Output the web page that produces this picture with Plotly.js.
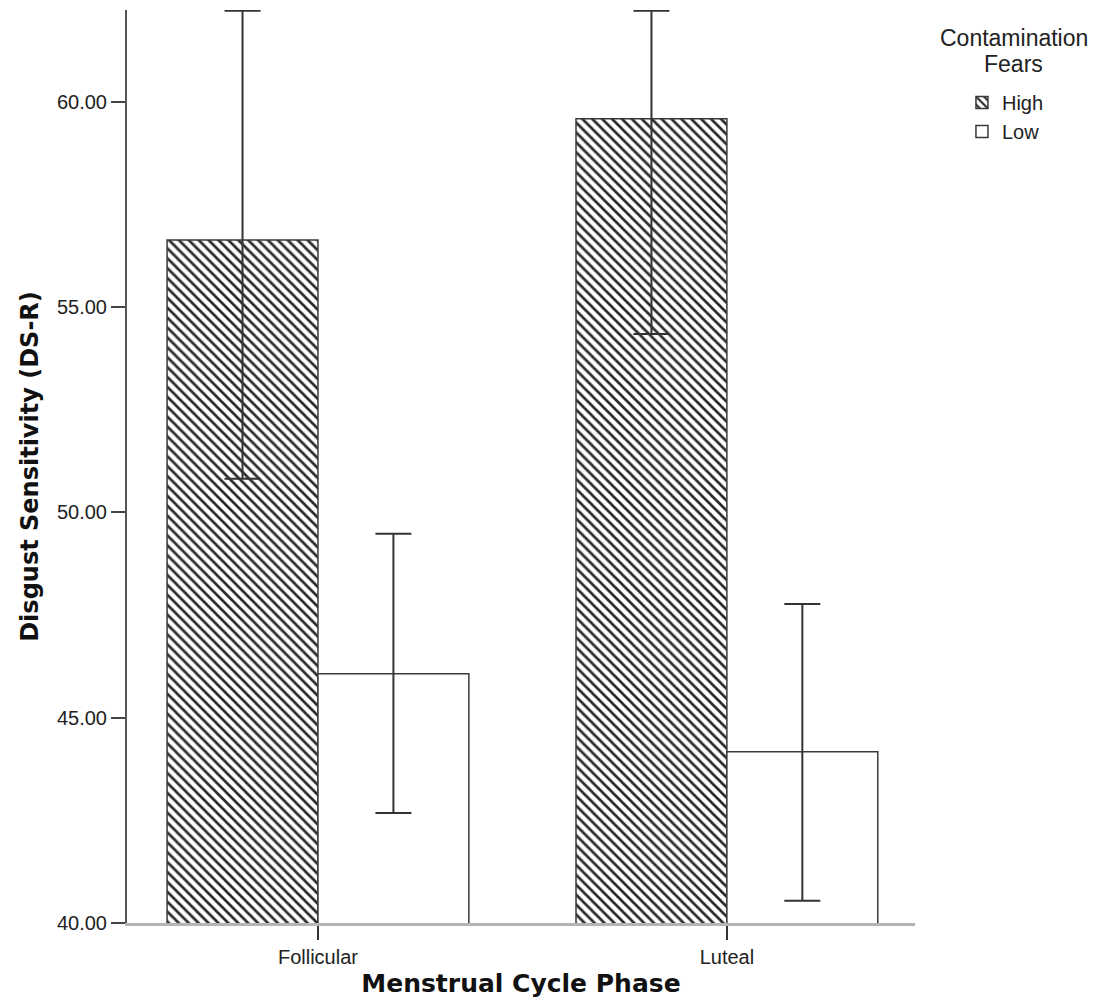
<!DOCTYPE html>
<html>
<head>
<meta charset="utf-8">
<script src="https://cdn.plot.ly/plotly-3.0.1.min.js"></script>
<style>html,body{margin:0;padding:0;background:#fff;}#chart{width:1101px;height:1002px;}</style>
</head>
<body>
<div id="chart"></div>
<script>
const phases = ["Follicular", "Luteal"];
const highMeans = [56.64, 59.59];
const highErrPlus = [5.58, 2.63];
const highErrMinus = [5.82, 5.24];
const lowMeans = [46.07, 44.17];
const lowErrPlus = [3.41, 3.60];
const lowErrMinus = [3.39, 3.63];
const seriesNames = ["High", "Low"];
const legendTitleLines = ["Contamination", "Fears"];

const lineCol = "#3a3a3a";
const errStyle = (plus, minus) => ({
  type: "data", symmetric: false, array: plus, arrayminus: minus,
  color: "#333333", thickness: 2, width: 18
});

const traces = [
  {
    type: "bar", name: seriesNames[0], x: phases, y: highMeans,
    marker: {
      color: "#ffffff",
      line: {color: lineCol, width: 1.5},
      pattern: {shape: "\\", size: 7, solidity: 0.38, fgcolor: "#2a2a2a", bgcolor: "#ffffff"}
    },
    error_y: errStyle(highErrPlus, highErrMinus),
    hoverinfo: "skip"
  },
  {
    type: "bar", name: seriesNames[1], x: phases, y: lowMeans,
    marker: {color: "#ffffff", line: {color: lineCol, width: 1.5}},
    error_y: errStyle(lowErrPlus, lowErrMinus),
    hoverinfo: "skip"
  }
];

const titleFont = (s) => ({family: "DejaVu Sans, sans-serif", size: s, color: "#111", weight: "bold"});

const layout = {
  width: 1101, height: 1002,
  margin: {l: 127, r: 186, t: 10, b: 79},
  paper_bgcolor: "#ffffff", plot_bgcolor: "#ffffff",
  font: {family: "Liberation Sans, Arial, sans-serif", color: "#222"},
  barmode: "group", bargap: 0.262, bargroupgap: 0,
  showlegend: true,
  xaxis: {
    range: [-0.467, 1.46],
    showgrid: false, zeroline: false,
    showline: true, linecolor: "#b4b4b4", linewidth: 2.5,
    ticks: "outside", ticklen: 14, tickwidth: 2, tickcolor: "#333",
    tickfont: {size: 20, color: "#222"},
    title: {text: "Menstrual Cycle Phase", font: titleFont(25), standoff: 8}
  },
  yaxis: {
    range: [40, 62.24],
    showgrid: false, zeroline: false,
    showline: true, linecolor: "#555", linewidth: 2,
    ticks: "outside", ticklen: 14, tickwidth: 2, tickcolor: "#444",
    tickvals: [40, 45, 50, 55, 60], tickformat: ".2f",
    tickfont: {size: 20, color: "#222"},
    title: {text: "Disgust Sensitivity (DS-R)", font: titleFont(24), standoff: 12}
  },
  legend: {
    x: 1.0596, y: 0.920, xanchor: "left", yanchor: "top",
    font: {size: 20, color: "#222"},
    itemwidth: 30, tracegroupgap: 0,
    bgcolor: "rgba(0,0,0,0)"
  },
  annotations: [
    {text: legendTitleLines[0], xref: "paper", yref: "paper", x: 1.1256, y: 0.9693,
     xanchor: "center", yanchor: "middle", showarrow: false, font: {size: 23, color: "#222"}},
    {text: legendTitleLines[1], xref: "paper", yref: "paper", x: 1.1256, y: 0.9409,
     xanchor: "center", yanchor: "middle", showarrow: false, font: {size: 23, color: "#222"}}
  ]
};

Plotly.newPlot("chart", traces, layout, {displayModeBar: false, staticPlot: true});
</script>
</body>
</html>
